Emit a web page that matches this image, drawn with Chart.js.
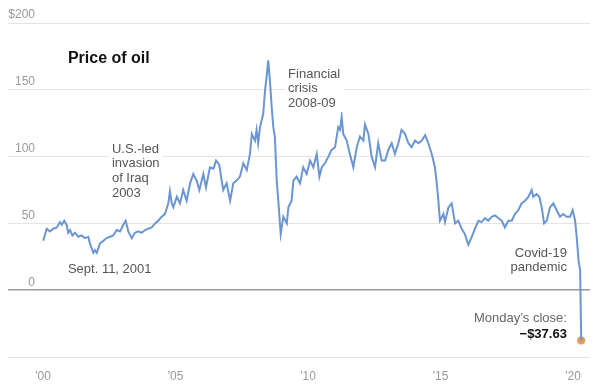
<!DOCTYPE html>
<html>
<head>
<meta charset="utf-8">
<script src="https://cdn.jsdelivr.net/npm/chart.js@4.4.1/dist/chart.umd.min.js"></script>
<style>
  html, body { margin: 0; padding: 0; background: #fff; }
</style>
</head>
<body>
<canvas id="oil-chart" width="600" height="390"></canvas>
<script>
// price of oil (year as decimal, dollars per barrel)
const years = [
  2000.01, 2000.14, 2000.26, 2000.39, 2000.52, 2000.64, 2000.71, 2000.80, 2000.89, 2000.95,
  2001.02, 2001.11, 2001.21, 2001.33, 2001.46, 2001.58, 2001.71, 2001.77, 2001.90, 2001.96,
  2002.03, 2002.15, 2002.28, 2002.40, 2002.53, 2002.65, 2002.78, 2002.91, 2003.03, 2003.12,
  2003.22, 2003.35, 2003.47, 2003.60, 2003.72, 2003.85, 2003.97, 2004.10, 2004.23, 2004.35,
  2004.48, 2004.60, 2004.73, 2004.79, 2004.86, 2004.92, 2005.05, 2005.17, 2005.29, 2005.42,
  2005.55, 2005.67, 2005.80, 2005.90, 2006.05, 2006.15, 2006.30, 2006.43, 2006.53, 2006.65,
  2006.80, 2006.93, 2007.06, 2007.18, 2007.31, 2007.43, 2007.56, 2007.69, 2007.81, 2007.88,
  2008.00, 2008.06, 2008.12, 2008.19, 2008.31, 2008.38, 2008.44, 2008.50, 2008.57, 2008.63,
  2008.69, 2008.75, 2008.82, 2008.88, 2008.97, 2009.07, 2009.20, 2009.26, 2009.38, 2009.45,
  2009.57, 2009.70, 2009.82, 2009.95, 2010.08, 2010.20, 2010.33, 2010.43, 2010.52, 2010.64,
  2010.77, 2010.89, 2011.02, 2011.14, 2011.21, 2011.27, 2011.33, 2011.46, 2011.58, 2011.71,
  2011.84, 2011.96, 2012.09, 2012.15, 2012.28, 2012.40, 2012.53, 2012.65, 2012.78, 2012.91,
  2013.03, 2013.16, 2013.28, 2013.41, 2013.53, 2013.66, 2013.79, 2013.91, 2014.04, 2014.17,
  2014.29, 2014.42, 2014.54, 2014.67, 2014.79, 2014.86, 2014.92, 2014.98, 2015.11, 2015.17,
  2015.30, 2015.42, 2015.55, 2015.67, 2015.80, 2015.92, 2016.05, 2016.18, 2016.30, 2016.43,
  2016.55, 2016.68, 2016.80, 2016.93, 2017.06, 2017.18, 2017.31, 2017.43, 2017.56, 2017.69,
  2017.81, 2017.94, 2018.06, 2018.19, 2018.32, 2018.44, 2018.50, 2018.63, 2018.73, 2018.82,
  2018.91, 2019.01, 2019.13, 2019.26, 2019.38, 2019.51, 2019.63, 2019.76, 2019.89, 2019.99,
  2020.08, 2020.14, 2020.21, 2020.27, 2020.31
];
const prices = [
  37, 46, 44, 46, 47, 51, 49, 52, 49, 43,
  45, 41, 43, 40, 41, 39, 40, 35, 28, 30,
  28, 35, 37, 39, 40, 41, 45, 44, 49, 52,
  44, 39, 43, 44, 43, 45, 46, 47, 50, 52,
  55, 57, 65, 74, 65, 62, 70, 65, 75, 67,
  80, 87, 82, 75, 87, 77, 92, 91, 97, 94,
  75, 80, 67, 80, 82, 85, 95, 90, 102, 117,
  112, 120, 110, 122, 132, 150, 160, 172, 155, 137,
  122, 115, 82, 67, 42, 55, 50, 62, 67, 82,
  85, 80, 92, 87, 97, 92, 102, 85, 92, 95,
  100, 105, 107, 122, 120, 130, 117, 112, 102, 92,
  107, 115, 112, 124, 117, 100, 92, 110, 97, 97,
  105, 110, 102, 110, 120, 117, 110, 107, 112, 110,
  112, 116, 110, 102, 92, 80, 67, 52, 57, 51,
  62, 65, 50, 52, 46, 42, 34, 40, 46, 52,
  51, 54, 52, 55, 56, 54, 52, 47, 52, 52,
  57, 60, 65, 67, 70, 75, 70, 72, 70, 62,
  50, 52, 62, 65, 60, 55, 57, 55, 55, 60,
  52, 40, 22, 15, -37.63
];
const closeYear = [2020.31];
const closeValue = [-37.63];

const yTicks = [-50, 0, 50, 100, 150, 200];
const yLabels = ['', '0', '50', '100', '150', '$200'];
const xTicks = [2000, 2005, 2010, 2015, 2020];
const xLabels = ["'00", "'05", "'10", "'15", "'20"];

const lineColor = '#6b96d2';
const dotColor = '#e89a5e';
const textFont = '"Liberation Sans", Arial, sans-serif';

// notes are anchored in data units (year, dollars)
const notes = [
  { lines: ['Price of oil'], year: 2000.94, value: 173, align: 'left', bold: true, size: 16, color: '#111' },
  { lines: ['U.S.-led', 'invasion', 'of Iraq', '2003'], year: 2002.6, value: 105.6, align: 'left' },
  { lines: ['Financial', 'crisis', '2008-09'], year: 2009.25, value: 161.8, align: 'left' },
  { lines: ['Sept. 11, 2001'], year: 2000.94, value: 15.7, align: 'left' },
  { lines: ['Covid-19', 'pandemic'], year: 2019.77, value: 27.7, align: 'right' },
  { lines: ["Monday\u2019s close:"], year: 2019.77, value: -21, align: 'right', color: '#666' },
  { lines: ['\u2212$37.63'], year: 2019.77, value: -33, align: 'right', bold: true, color: '#111' }
];

// y tick labels sit just above their grid lines, right-aligned at the plot edge
const yLabelPlugin = {
  id: 'yLabels',
  afterDraw(chart) {
    const ctx = chart.ctx;
    const ys = chart.scales.y;
    ctx.save();
    ctx.font = '12px ' + textFont;
    ctx.fillStyle = '#999';
    ctx.textAlign = 'right';
    ctx.textBaseline = 'middle';
    ys.ticks.forEach(t => {
      const label = yLabels[yTicks.indexOf(t.value)];
      if (label) ctx.fillText(label, chart.chartArea.left, ys.getPixelForValue(t.value) - 8);
    });
    ctx.restore();
  }
};

const notesPlugin = {
  id: 'notes',
  afterDraw(chart) {
    const ctx = chart.ctx;
    const xs = chart.scales.x, ys = chart.scales.y;
    ctx.save();
    ctx.textBaseline = 'middle';
    notes.forEach(n => {
      const size = n.size || 13;
      ctx.font = (n.bold ? 'bold ' : '') + size + 'px ' + textFont;
      const x = xs.getPixelForValue(n.year);
      const y0 = ys.getPixelForValue(n.value);
      const lh = 14.7;
      let w = 0;
      n.lines.forEach(l => { w = Math.max(w, ctx.measureText(l).width); });
      const left = n.align === 'right' ? x - w : x;
      ctx.fillStyle = '#fff';
      ctx.fillRect(left - 3, y0 - lh / 2 - 1, w + 6, lh * n.lines.length + 2);
      ctx.fillStyle = n.color || '#555';
      ctx.textAlign = n.align;
      n.lines.forEach((l, i) => ctx.fillText(l, x, y0 + i * lh));
    });
    ctx.restore();
  }
};

new Chart(document.getElementById('oil-chart'), {
  type: 'line',
  data: {
    datasets: [{
      label: 'Price of oil',
      data: years.map((yr, i) => ({ x: yr, y: prices[i] })),
      borderColor: lineColor,
      borderWidth: 2,
      pointRadius: 0,
      tension: 0,
      fill: false
    }, {
      label: "Monday's close",
      data: closeYear.map((yr, i) => ({ x: yr, y: closeValue[i] })),
      showLine: false,
      pointRadius: 4,
      pointBackgroundColor: dotColor,
      pointBorderWidth: 0
    }]
  },
  plugins: [yLabelPlugin, notesPlugin],
  options: {
    responsive: false,
    animation: false,
    layout: { padding: { left: 8, right: 10, top: 23, bottom: 0 } },
    plugins: { legend: { display: false }, tooltip: { enabled: false } },
    scales: {
      x: {
        type: 'linear',
        min: 1999.698,
        max: 2020.642,
        grid: { display: false },
        border: { display: false },
        afterBuildTicks: axis => { axis.ticks = xTicks.map(v => ({ value: v })); },
        afterFit: axis => { axis.height = 33; },
        ticks: {
          padding: 4,
          color: '#999',
          font: { family: textFont, size: 12 },
          maxRotation: 0,
          callback: v => xLabels[xTicks.indexOf(v)]
        }
      },
      y: {
        min: -50,
        max: 200,
        border: { display: false },
        afterBuildTicks: axis => { axis.ticks = yTicks.map(v => ({ value: v })); },
        afterFit: axis => { axis.width = 27; },
        grid: {
          drawTicks: true,
          tickLength: 27,
          color: c => c.tick && c.tick.value === 0 ? '#9a9a9a' : '#e4e4e4',
          tickColor: c => c.tick && c.tick.value === 0 ? '#9a9a9a' : '#e4e4e4',
          lineWidth: c => c.tick && c.tick.value === 0 ? 1.5 : 1
        },
        ticks: { display: false }
      }
    }
  }
});
</script>
</body>
</html>
